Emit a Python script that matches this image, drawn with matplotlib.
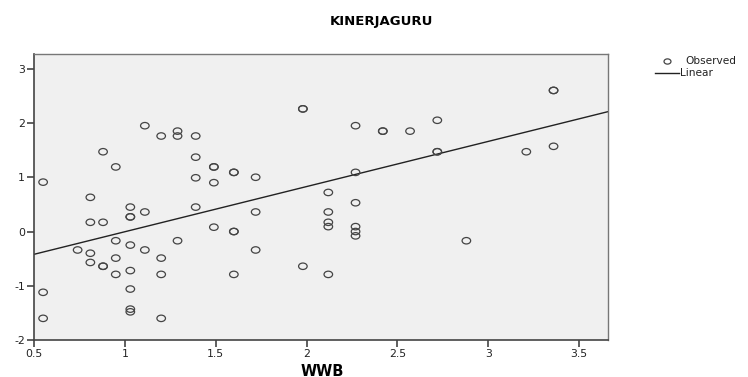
import matplotlib
matplotlib.use("Agg")
import matplotlib.pyplot as plt
import numpy as np
from matplotlib.path import Path
from matplotlib.transforms import Affine2D

plt.rcParams["font.family"] = ["DejaVu Sans"]
plt.rcParams["axes.unicode_minus"] = False

# observed WWB / KINERJAGURU pairs (repeated pairs are duplicate cases)
wwb = [0.55, 0.55, 0.55,
       0.74, 0.81, 0.81, 0.81, 0.81,
       0.88, 0.88, 0.88, 0.88,
       0.95, 0.95, 0.95, 0.95,
       1.03, 1.03, 1.03, 1.03, 1.03, 1.03, 1.03, 1.03,
       1.11, 1.11, 1.11,
       1.20, 1.20, 1.20, 1.20,
       1.29, 1.29, 1.29,
       1.39, 1.39, 1.39, 1.39,
       1.49, 1.49, 1.49, 1.49,
       1.60, 1.60, 1.60, 1.60, 1.60,
       1.72, 1.72, 1.72,
       1.98, 1.98, 1.98,
       2.12, 2.12, 2.12, 2.12, 2.12,
       2.27, 2.27, 2.27, 2.27, 2.27, 2.27,
       2.42, 2.42, 2.57,
       2.72, 2.72, 2.72,
       2.88, 3.21,
       3.36, 3.36, 3.36]
kinerja = [0.91, -1.12, -1.60,
           -0.34, 0.63, 0.17, -0.40, -0.57,
           1.47, 0.17, -0.64, -0.64,
           1.19, -0.17, -0.49, -0.79,
           0.45, 0.27, 0.27, -0.25, -0.72, -1.06, -1.43, -1.48,
           1.95, 0.36, -0.34,
           1.76, -0.49, -0.79, -1.60,
           1.85, 1.76, -0.17,
           1.76, 1.37, 0.99, 0.45,
           1.19, 1.19, 0.90, 0.08,
           1.09, 1.09, 0.00, 0.00, -0.79,
           1.00, 0.36, -0.34,
           2.26, 2.26, -0.64,
           0.72, 0.36, 0.17, 0.09, -0.79,
           1.95, 1.09, 0.53, 0.09, 0.00, -0.08,
           1.85, 1.85, 1.85,
           2.05, 1.47, 1.47,
           -0.17, 1.47,
           2.60, 2.60, 1.57]

# linear fit coefficients
fit_intercept = -0.836
fit_slope = 0.832

x_ticks = [0.5, 1, 1.5, 2, 2.5, 3, 3.5]
x_tick_labels = ["0.5", "1", "1.5", "2", "2.5", "3", "3.5"]
y_ticks = [-2, -1, 0, 1, 2, 3]

# slightly wide open circle
oval = Affine2D().scale(1.33, 1.0).transform_path(Path.unit_circle())

fig = plt.figure(figsize=(7.48, 3.77), dpi=100)
ax = fig.add_axes([0.0455, 0.098, 0.7674, 0.7586])
ax.set_facecolor("#f0f0f0")

ax.scatter(wwb, kinerja, marker=oval, s=38, facecolors="none",
           edgecolors="#444444", linewidths=0.9, zorder=3)

xl = np.array([0.5, 3.66])
ax.plot(xl, fit_intercept + fit_slope * xl, color="#222222", lw=1.0, zorder=2)

ax.set_xlim(0.5, 3.66)
ax.set_ylim(-2, 3.27)
ax.set_xticks(x_ticks)
ax.set_xticklabels(x_tick_labels)
ax.set_yticks(y_ticks)
ax.tick_params(direction="out", length=5, width=1.2, color="#444444",
               labelsize=7.8, pad=1.5, labelcolor="#222222")
for side in ["left", "bottom"]:
    ax.spines[side].set_color("#444444")
    ax.spines[side].set_linewidth(1.2)
for side in ["top", "right"]:
    ax.spines[side].set_color("#777777")
    ax.spines[side].set_linewidth(1.0)

fig.text(322 / 748, 1 - 371 / 377, "WWB", fontsize=10.5,
         fontweight="bold", ha="center", va="center")
fig.text(381 / 748, 1 - 21 / 377, "KINERJAGURU", fontsize=9.5,
         fontweight="bold", ha="center", va="center")

# legend drawn in figure coordinates
fig.lines.append(plt.Line2D([667 / 748], [1 - 61 / 377], marker=oval,
                            markersize=5, markerfacecolor="none",
                            markeredgecolor="#444444", markeredgewidth=0.9,
                            linestyle="none", transform=fig.transFigure))
fig.text(685 / 748, 1 - 61 / 377, "Observed", fontsize=7.6,
         va="center", ha="left", color="#222222")
fig.lines.append(plt.Line2D([655 / 748, 679 / 748], [1 - 73 / 377, 1 - 73 / 377],
                            color="#222222", lw=1.0, transform=fig.transFigure))
fig.text(680 / 748, 1 - 73 / 377, "Linear", fontsize=7.6,
         va="center", ha="left", color="#222222")

fig.savefig("out.png", dpi=100)
plt.close(fig)
